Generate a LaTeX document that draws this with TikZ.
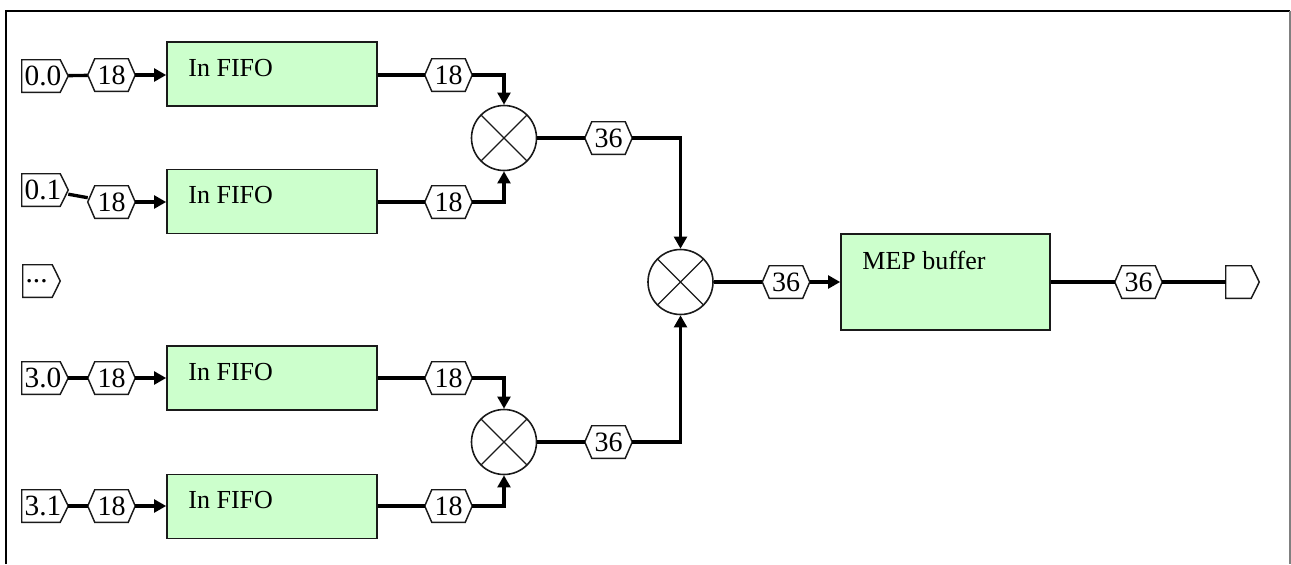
\documentclass[tikz,border=0pt]{standalone}
\usepackage{fontspec}
\setmainfont{Liberation Serif}
\usetikzlibrary{arrows.meta,calc}
\definecolor{fifogreen}{HTML}{CCFFCC}
\definecolor{edgegray}{HTML}{1A1A1A}
\tikzset{
  conn/.style={line width=2.5pt},
  arr/.style={conn,-{Triangle[length=9pt,width=9.5pt]}},
  shapeline/.style={line width=1.1pt, draw=edgegray, fill=white, line join=miter},
  hexn/.style={inner sep=0pt, minimum width=35.25pt, minimum height=24pt, font=\fontsize{21}{21}\selectfont},
  portn/.style={inner xsep=2pt, inner ysep=0pt, text width=30.5pt, align=left, minimum height=24pt, font=\fontsize{22}{22}\selectfont},
  fifo/.style={draw=edgegray, line width=1.2pt, fill=fifogreen, minimum width=157.5pt, minimum height=48pt, inner sep=0pt},
  mep/.style={draw=edgegray, line width=1.2pt, fill=fifogreen, minimum width=156.75pt, minimum height=72pt, inner sep=0pt},
  boxlbl/.style={inner sep=0pt, font=\fontsize{19.5}{19.5}\selectfont},
  mult/.style={circle, draw=edgegray, line width=1.2pt, fill=white, minimum size=48.75pt, inner sep=0pt,
    path picture={\draw[line width=1pt] (path picture bounding box.north west) -- (path picture bounding box.south east)
      (path picture bounding box.north east) -- (path picture bounding box.south west);}}
}
\newcommand\hexo[1]{\draw[shapeline] (#1.west) -- ([xshift=5.25pt]#1.north west) -- ([xshift=-5.25pt]#1.north east) -- (#1.east) -- ([xshift=-5.25pt]#1.south east) -- ([xshift=5.25pt]#1.south west) -- cycle;}
\newcommand\porto[1]{\draw[shapeline] (#1.north west) -- ([xshift=-6pt]#1.north east) -- (#1.east) -- ([xshift=-6pt]#1.south east) -- (#1.south west) -- cycle;}
\begin{document}
\begin{tikzpicture}[x=0.75pt,y=-0.75pt]
\useasboundingbox (0,0) rectangle (1291,564);
% frame
\draw[line width=2pt] (6,564) -- (6,11) -- (1290,11);
\draw[gray, line width=1.2pt] (1290,11) -- (1290,564);

% input ports
\node[portn] (p00) at (45,76) {};
\node[portn] (p01) at (45,190) {};
\node[portn, text width=23.75pt] (pdd) at (41.5,281) {};
\node[portn] (p30) at (45,378) {};
\node[portn] (p31) at (45,506) {};
\porto{p00}\porto{p01}\porto{pdd}\porto{p30}\porto{p31}
\node[portn] (p00t) at (p00) {0.0};
\node[portn] (p01t) at (p01) {0.1};
\node[portn, text width=23.75pt] (pddt) at (pdd) {...};
\node[portn] (p30t) at (p30) {3.0};
\node[portn] (p31t) at (p31) {3.1};

% input hexes
\foreach \n/\y in {h00/75,h01/202,h30/378,h31/506}{
  \node[hexn] (\n) at (111.5,\y) {};
  \hexo{\n}
  \node[hexn] at (\n) {18};
}
% FIFOs
\node[fifo] (f1) at (272,74) {};
\node[fifo] (f2) at (272,201.5) {};
\node[fifo] (f3) at (272,378) {};
\node[fifo] (f4) at (272,506.5) {};
\foreach \f in {f1,f2,f3,f4}{
  \node[boxlbl, anchor=base west] (\f l) at ([xshift=16.5pt,yshift=-26.25pt]\f.north west) {In FIFO};
}
% output hexes of FIFOs
\foreach \n/\y in {o1/75,o2/202,o3/378,o4/506}{
  \node[hexn] (\n) at (448.5,\y) {};
  \hexo{\n}
  \node[hexn] at (\n) {18};
}
% multiplexers
\node[mult] (m1) at (504,138) {};
\node[mult] (m2) at (504,442) {};
\node[mult] (mc) at (680.5,282) {};
% 36 hexes
\foreach \n/\x/\y in {s1/608.5/138,s2/608.5/442,s3/786/282,s4/1138.5/282}{
  \node[hexn] (\n) at (\x,\y) {};
  \hexo{\n}
  \node[hexn] at (\n) {36};
}
% MEP buffer
\node[mep] (mb) at (945.5,282) {};
\node[boxlbl, anchor=base west] (mbl) at ([xshift=16.5pt,yshift=-27pt]mb.north west) {MEP buffer};
% output port
\node[portn, text width=20.75pt] (po) at (1242.5,282) {};
\porto{po}

% connectors
\draw[conn] (p00) -- (h00);
\draw[conn] (p01) -- (h01);
\draw[conn] (p30) -- (h30);
\draw[conn] (p31) -- (h31);
\draw[arr] (h00.east) -- (h00.east -| f1.west);
\draw[arr] (h01.east) -- (h01.east -| f2.west);
\draw[arr] (h30.east) -- (h30.east -| f3.west);
\draw[arr] (h31.east) -- (h31.east -| f4.west);
\draw[conn] (o1.west -| f1.east) -- (o1.west);
\draw[conn] (o2.west -| f2.east) -- (o2.west);
\draw[conn] (o3.west -| f3.east) -- (o3.west);
\draw[conn] (o4.west -| f4.east) -- (o4.west);
\draw[arr] (o1.east) -| (m1.north);
\draw[arr] (o2.east) -| (m1.south);
\draw[arr] (o3.east) -| (m2.north);
\draw[arr] (o4.east) -| (m2.south);
\draw[conn] (m1.east) -- (s1.west);
\draw[conn] (m2.east) -- (s2.west);
\draw[arr] (s1.east) -| (mc.north);
\draw[arr] (s2.east) -| (mc.south);
\draw[conn] (mc.east) -- (s3.west);
\draw[arr] (s3.east) -- (s3.east -| mb.west);
\draw[conn] (s4.west -| mb.east) -- (s4.west);
\draw[conn] (s4.east) -- (po.west);
\end{tikzpicture}
\end{document}
